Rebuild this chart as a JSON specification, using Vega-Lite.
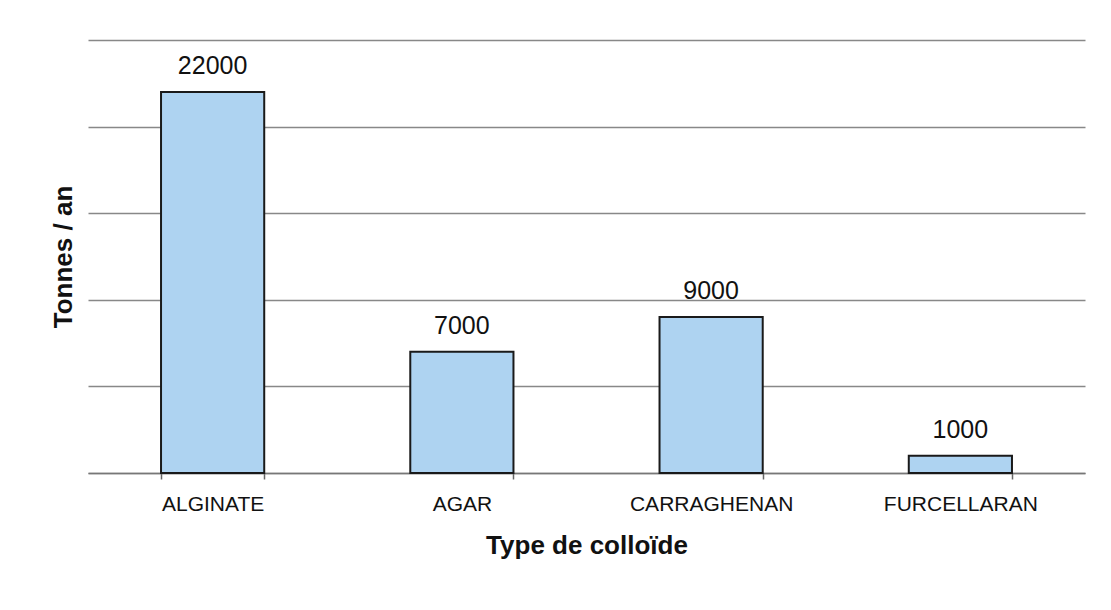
{
  "$schema": "https://vega.github.io/schema/vega-lite/v6.json",
  "width": 997,
  "height": 433,
  "autosize": {"type": "none"},
  "padding": {"left": 88, "top": 40, "right": 26, "bottom": 137},
  "background": "white",
  "config": {
    "view": {"stroke": null},
    "font": "Liberation Sans"
  },
  "data": {
    "values": [
      {"type": "ALGINATE", "tonnes": 22000},
      {"type": "AGAR", "tonnes": 7000},
      {"type": "CARRAGHENAN", "tonnes": 9000},
      {"type": "FURCELLARAN", "tonnes": 1000}
    ]
  },
  "encoding": {
    "x": {
      "field": "type",
      "type": "nominal",
      "sort": null,
      "scale": {"paddingInner": 0.586, "paddingOuter": 0.293},
      "axis": {
        "title": "Type de colloïde",
        "titleFont": "Liberation Sans",
        "titleFontSize": 26,
        "titleFontWeight": "bold",
        "titleColor": "#111",
        "titlePadding": 18,
        "labelAngle": 0,
        "labelFontSize": 21,
        "labelColor": "#111",
        "labelPadding": 14,
        "tickBand": "extent",
        "tickSize": 6,
        "tickColor": "#666",
        "domainColor": "#777",
        "domainWidth": 1.5,
        "tickWidth": 1.5
      }
    },
    "y": {
      "field": "tonnes",
      "type": "quantitative",
      "scale": {"domain": [0, 25000], "nice": false},
      "axis": {
        "title": "Tonnes / an",
        "titleFont": "Liberation Sans",
        "titleFontSize": 26,
        "titleFontWeight": "bold",
        "titleColor": "#111",
        "titlePadding": 12,
        "labels": false,
        "ticks": false,
        "domain": false,
        "values": [0, 5000, 10000, 15000, 20000, 25000],
        "grid": true,
        "gridColor": "#888",
        "gridWidth": 1.5
      }
    }
  },
  "layer": [
    {
      "mark": {"type": "bar", "fill": "#aed3f1", "stroke": "#1a1a1a", "strokeWidth": 2}
    },
    {
      "mark": {"type": "text", "baseline": "alphabetic", "dy": -18, "fontSize": 25, "color": "#111"},
      "encoding": {"text": {"field": "tonnes", "type": "quantitative", "format": "d"}}
    }
  ]
}
